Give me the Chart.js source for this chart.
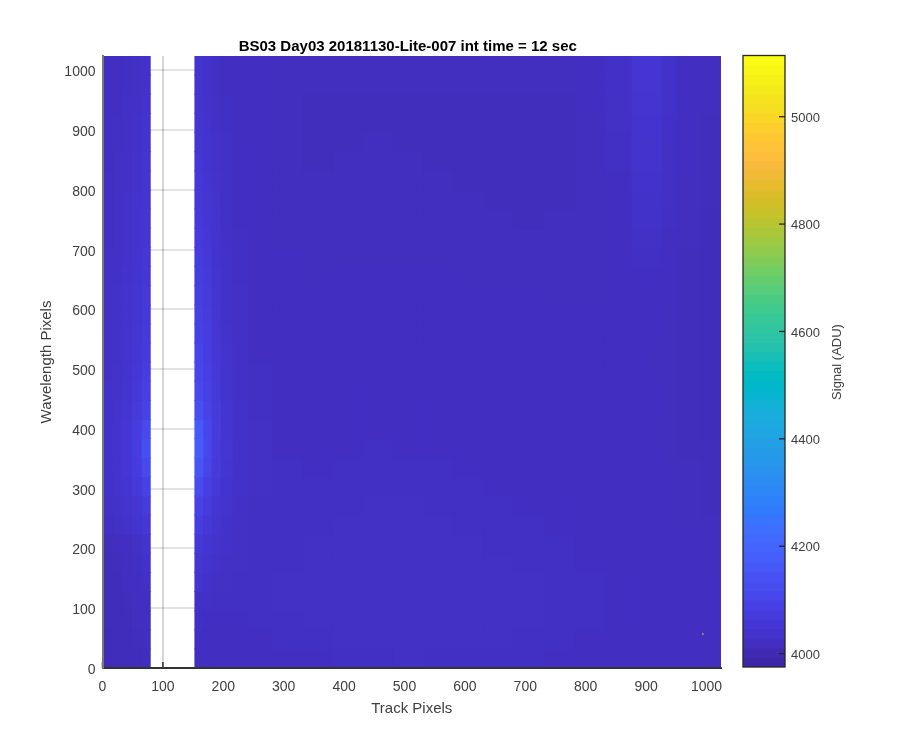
<!DOCTYPE html>
<html>
<head>
<meta charset="utf-8">
<title>BS03 Day03</title>
<script src="https://cdn.jsdelivr.net/npm/chart.js@4"></script>
<style>
    body { margin: 0; background: #fff; }
    canvas { position: absolute; left: 0; top: 0; }
</style>
</head>
<body>
<canvas id="imageChart" width="900" height="750"></canvas>
<canvas id="barChart" width="900" height="750"></canvas>
<script>
const titleText = "BS03 Day03 20181130-Lite-007 int time = 12 sec";
const xLabel = "Track Pixels";
const yLabel = "Wavelength Pixels";
const barLabel = "Signal (ADU)";

const trackStarts = [0, 16, 32, 48, 64, 153, 166, 180, 195, 215, 240, 280, 330, 380, 430, 480, 530, 580, 630, 680, 730, 780, 830, 875, 900, 925, 950, 990];
const trackEnds = [16, 32, 48, 64, 79, 166, 180, 195, 215, 240, 280, 330, 380, 430, 480, 530, 580, 630, 680, 730, 780, 830, 875, 900, 925, 950, 990, 1024];
const wavelengths = [16, 48, 80, 112, 144, 176, 208, 240, 272, 304, 336, 368, 400, 432, 464, 496, 528, 560, 592, 624, 656, 688, 720, 752, 784, 816, 848, 880, 912, 944, 976, 1008];

// one row per wavelength, bottom row first
const signal = [
    [4010,4012,4012,4014,4016,4018,4018,4020,4020,4020,4022,4024,4024,4026,4026,4028,4026,4026,4026,4026,4024,4024,4022,4022,4020,4020,4020,4018],
    [4010,4012,4014,4016,4018,4022,4022,4022,4022,4022,4024,4026,4026,4028,4028,4030,4028,4028,4028,4026,4026,4024,4024,4022,4022,4020,4020,4018],
    [4012,4012,4014,4018,4020,4026,4024,4024,4024,4024,4026,4026,4028,4030,4030,4030,4030,4028,4028,4028,4026,4026,4024,4024,4022,4022,4020,4020],
    [4012,4014,4016,4020,4024,4032,4028,4026,4026,4026,4026,4028,4028,4030,4030,4030,4030,4030,4028,4028,4026,4026,4024,4024,4022,4022,4020,4020],
    [4012,4014,4018,4022,4028,4040,4034,4030,4028,4026,4026,4028,4028,4030,4030,4030,4030,4028,4028,4028,4026,4026,4024,4024,4022,4022,4020,4020],
    [4014,4016,4020,4026,4034,4050,4042,4034,4030,4028,4026,4026,4028,4028,4030,4030,4028,4028,4028,4026,4026,4024,4024,4022,4022,4022,4020,4018],
    [4016,4020,4024,4030,4042,4060,4048,4040,4034,4028,4026,4026,4028,4028,4028,4028,4028,4028,4026,4026,4026,4024,4024,4022,4022,4020,4020,4018],
    [4026,4030,4036,4042,4054,4074,4058,4046,4036,4030,4026,4026,4026,4028,4028,4028,4028,4026,4026,4026,4024,4024,4022,4022,4022,4020,4018,4018],
    [4030,4034,4042,4052,4070,4094,4070,4052,4040,4032,4026,4026,4026,4026,4028,4028,4026,4026,4026,4024,4024,4024,4022,4022,4020,4020,4018,4016],
    [4034,4040,4048,4062,4090,4120,4084,4060,4044,4034,4028,4026,4026,4026,4026,4026,4026,4026,4024,4024,4024,4022,4022,4020,4020,4020,4018,4016],
    [4036,4042,4054,4072,4112,4150,4098,4066,4048,4036,4028,4026,4024,4026,4026,4026,4026,4024,4024,4024,4022,4022,4020,4020,4020,4018,4018,4016],
    [4036,4044,4056,4078,4135,4172,4108,4070,4050,4036,4028,4024,4024,4024,4026,4024,4024,4024,4022,4022,4022,4020,4020,4020,4020,4018,4016,4016],
    [4036,4042,4054,4074,4112,4165,4106,4070,4048,4036,4028,4024,4024,4024,4024,4024,4024,4024,4022,4022,4022,4020,4020,4020,4018,4018,4016,4014],
    [4034,4040,4050,4066,4092,4135,4096,4066,4046,4034,4026,4024,4024,4024,4024,4024,4024,4022,4022,4022,4020,4020,4020,4020,4020,4018,4016,4014],
    [4034,4038,4046,4060,4082,4116,4088,4062,4044,4032,4026,4024,4022,4024,4024,4024,4022,4022,4022,4022,4020,4020,4020,4020,4020,4018,4016,4014],
    [4032,4038,4044,4056,4074,4104,4084,4058,4042,4032,4026,4022,4022,4022,4022,4022,4022,4022,4020,4020,4020,4020,4020,4020,4018,4018,4016,4014],
    [4032,4036,4042,4052,4068,4098,4078,4056,4040,4030,4024,4022,4022,4022,4022,4022,4022,4020,4020,4020,4020,4020,4020,4020,4018,4018,4016,4014],
    [4032,4036,4040,4050,4064,4090,4074,4052,4038,4030,4024,4022,4020,4022,4022,4022,4020,4020,4020,4020,4020,4020,4020,4020,4020,4018,4016,4014],
    [4030,4034,4040,4048,4060,4086,4070,4050,4036,4028,4024,4020,4020,4020,4020,4020,4020,4020,4020,4020,4020,4020,4020,4022,4020,4018,4016,4014],
    [4030,4034,4040,4046,4058,4080,4066,4048,4036,4028,4022,4020,4020,4020,4020,4020,4020,4020,4020,4020,4018,4018,4020,4022,4022,4020,4016,4014],
    [4028,4032,4038,4044,4056,4076,4062,4046,4034,4026,4022,4020,4018,4020,4020,4020,4020,4018,4018,4018,4018,4018,4020,4024,4024,4020,4016,4014],
    [4028,4032,4036,4044,4054,4072,4058,4044,4034,4026,4022,4020,4018,4018,4018,4018,4018,4018,4018,4018,4018,4018,4020,4026,4026,4022,4016,4014],
    [4026,4030,4036,4042,4052,4068,4056,4042,4032,4026,4022,4018,4018,4018,4018,4018,4018,4018,4018,4018,4018,4018,4022,4030,4030,4024,4018,4014],
    [4026,4030,4034,4042,4050,4064,4052,4040,4030,4024,4020,4018,4018,4018,4018,4018,4018,4018,4018,4016,4018,4018,4022,4034,4034,4026,4018,4014],
    [4026,4028,4034,4040,4048,4060,4050,4040,4030,4024,4020,4018,4018,4018,4018,4018,4018,4018,4016,4016,4016,4018,4024,4036,4036,4028,4018,4016],
    [4026,4028,4032,4038,4046,4058,4046,4038,4028,4024,4020,4018,4018,4018,4018,4018,4018,4016,4016,4016,4016,4018,4024,4038,4038,4028,4018,4016],
    [4024,4028,4032,4038,4046,4054,4044,4036,4028,4024,4020,4018,4016,4018,4018,4018,4016,4016,4016,4016,4016,4018,4026,4040,4040,4030,4020,4016],
    [4024,4026,4030,4036,4044,4050,4042,4034,4028,4024,4020,4018,4016,4016,4018,4016,4016,4016,4016,4016,4016,4018,4026,4042,4042,4030,4020,4016],
    [4022,4026,4030,4034,4042,4048,4040,4032,4026,4022,4020,4018,4016,4016,4016,4016,4016,4016,4016,4016,4016,4018,4028,4044,4044,4032,4020,4016],
    [4022,4024,4028,4032,4038,4046,4038,4030,4026,4022,4020,4018,4016,4016,4016,4016,4016,4016,4016,4016,4016,4020,4030,4048,4048,4034,4022,4018],
    [4020,4024,4026,4030,4036,4044,4036,4030,4024,4022,4020,4018,4018,4018,4018,4018,4018,4018,4018,4018,4018,4020,4032,4050,4050,4036,4022,4018],
    [4020,4022,4026,4030,4034,4042,4034,4028,4024,4022,4020,4018,4018,4018,4018,4018,4018,4018,4018,4018,4018,4020,4032,4052,4052,4036,4022,4018]
];

// the one hot pixel near the bottom right
const hotX = [994];
const hotY = [57];
const hotSignal = [4850];

const axisMax = 1024;
const signalMin = 3975;
const signalMax = 5114;
const barTicks = [4000, 4200, 4400, 4600, 4800, 5000];

// MATLAB parula, 64 levels
const parula = [
    [0.2422,0.1504,0.6603],[0.2504,0.1650,0.7076],[0.2578,0.1818,0.7511],[0.2647,0.1978,0.7952],
    [0.2706,0.2147,0.8364],[0.2751,0.2342,0.8710],[0.2783,0.2559,0.8991],[0.2803,0.2782,0.9221],
    [0.2813,0.3006,0.9414],[0.2810,0.3228,0.9579],[0.2795,0.3447,0.9717],[0.2760,0.3667,0.9829],
    [0.2699,0.3892,0.9906],[0.2602,0.4123,0.9952],[0.2440,0.4358,0.9988],[0.2206,0.4603,0.9973],
    [0.1963,0.4847,0.9892],[0.1834,0.5074,0.9798],[0.1786,0.5289,0.9682],[0.1764,0.5499,0.9520],
    [0.1687,0.5703,0.9359],[0.1540,0.5902,0.9218],[0.1460,0.6091,0.9079],[0.1380,0.6276,0.8973],
    [0.1248,0.6459,0.8883],[0.1113,0.6635,0.8763],[0.0952,0.6798,0.8598],[0.0689,0.6948,0.8394],
    [0.0297,0.7082,0.8163],[0.0036,0.7203,0.7917],[0.0067,0.7312,0.7660],[0.0433,0.7411,0.7394],
    [0.0964,0.7500,0.7120],[0.1408,0.7584,0.6842],[0.1717,0.7670,0.6554],[0.1938,0.7758,0.6251],
    [0.2161,0.7843,0.5923],[0.2470,0.7918,0.5567],[0.2906,0.7973,0.5188],[0.3406,0.8008,0.4789],
    [0.3909,0.8029,0.4354],[0.4456,0.8024,0.3909],[0.5044,0.7993,0.3480],[0.5616,0.7942,0.3045],
    [0.6174,0.7876,0.2612],[0.6720,0.7793,0.2227],[0.7242,0.7698,0.1910],[0.7738,0.7598,0.1646],
    [0.8203,0.7498,0.1535],[0.8634,0.7406,0.1596],[0.9035,0.7330,0.1774],[0.9393,0.7288,0.2100],
    [0.9728,0.7298,0.2394],[0.9956,0.7434,0.2371],[0.9970,0.7659,0.2199],[0.9952,0.7861,0.1990],
    [0.9892,0.8134,0.1760],[0.9786,0.8422,0.1537],[0.9659,0.8702,0.1320],[0.9596,0.8958,0.1150],
    [0.9610,0.9190,0.1010],[0.9650,0.9430,0.0900],[0.9700,0.9650,0.0840],[0.9769,0.9839,0.0805]
];

function signalColor(value) {
    const pos = Math.min(62.999, Math.max(0, (value - signalMin) / (signalMax - signalMin) * 64 - 0.5));
    const low = Math.floor(pos);
    const part = pos - low;
    const rgb = [0, 1, 2].map(i => Math.round(255 * (parula[low][i] * (1 - part) + parula[low + 1][i] * part)));
    return "rgb(" + rgb.join(",") + ")";
}

const tickFont = { family: "'Liberation Sans', Arial, sans-serif", size: 14 };
const labelFont = { family: tickFont.family, size: 15 };
const textColor = "#404040";

const imageDatasets = [{
    type: "scatter",
    data: hotX.map((x, i) => ({ x: x, y: hotY[i] })),
    pointStyle: "rect",
    pointRadius: 1,
    pointBorderWidth: 0,
    pointBackgroundColor: hotSignal.map(signalColor)
}];

trackStarts.forEach((start, c) => {
    imageDatasets.push({
        indexAxis: "y",
        data: wavelengths.map(w => ({ y: w, x: [start, trackEnds[c]] })),
        backgroundColor: signal.map(row => signalColor(row[c])),
        barPercentage: 1,
        categoryPercentage: 1,
        grouped: false,
        inflateAmount: 0.5
    });
});

// ticks point inwards and sit under the image, so only the white gap shows them
const insideTicks = {
    id: "insideTicks",
    beforeDatasetsDraw(chart) {
        const { ctx, chartArea, scales } = chart;
        ctx.save();
        ctx.strokeStyle = "#303030";
        ctx.lineWidth = 1.5;
        scales.x.ticks.forEach(t => {
            const px = scales.x.getPixelForValue(t.value);
            ctx.beginPath();
            ctx.moveTo(px, chartArea.bottom);
            ctx.lineTo(px, chartArea.bottom - 6);
            ctx.stroke();
        });
        ctx.restore();
    }
};

const shiftTitle = {
    id: "shiftTitle",
    afterLayout(chart) {
        chart.titleBlock.right -= 8;
    }
};

new Chart(document.getElementById("imageChart"), {
    type: "bar",
    data: { datasets: imageDatasets },
    plugins: [insideTicks, shiftTitle],
    options: {
        responsive: false,
        animation: false,
        indexAxis: "y",
        layout: { padding: { left: 38, right: 179, top: 0, bottom: 32 } },
        plugins: {
            legend: { display: false },
            tooltip: { enabled: false },
            title: {
                display: true,
                text: titleText,
                fullSize: false,
                color: "#000",
                font: { family: tickFont.family, size: 15, weight: "bold" },
                padding: { top: 38, bottom: 0 }
            }
        },
        scales: {
            x: {
                type: "linear",
                min: 0,
                max: axisMax,
                grid: { color: "rgba(0,0,0,0.16)", lineWidth: 2, drawTicks: false },
                border: { color: "#333", width: 2, z: 1 },
                ticks: { stepSize: 100, includeBounds: false, maxRotation: 0, autoSkip: false, color: textColor, font: tickFont, padding: 11, callback: v => String(v) },
                title: { display: true, text: xLabel, color: textColor, font: labelFont, padding: { top: 0, bottom: 0 } },
                afterFit(scale) { scale.height = 50; }
            },
            y: {
                type: "linear",
                offset: false,
                min: 0,
                max: axisMax,
                grid: { offset: false, color: "rgba(0,0,0,0.11)", lineWidth: 2, drawTicks: false },
                border: { color: "#777", width: 2, z: 1 },
                ticks: { stepSize: 100, includeBounds: false, autoSkip: false, color: textColor, font: tickFont, padding: 7, labelOffset: 2, callback: v => String(v) },
                title: { display: true, text: yLabel, color: textColor, font: labelFont, padding: { top: 0, bottom: 0 } },
                afterFit(scale) { scale.width = 64.5; }
            }
        }
    }
});

const levelWidth = (signalMax - signalMin) / parula.length;
const levelCentres = parula.map((c, i) => signalMin + (i + 0.5) * levelWidth);

const barFrame = {
    id: "barFrame",
    afterDatasetsDraw(chart) {
        const { ctx, chartArea, scales } = chart;
        ctx.save();
        ctx.strokeStyle = "#262626";
        ctx.lineWidth = 1.3;
        ctx.strokeRect(chartArea.left, chartArea.top, chartArea.width, chartArea.height);
        barTicks.forEach(v => {
            const py = scales.y.getPixelForValue(v);
            ctx.beginPath();
            ctx.moveTo(chartArea.right, py);
            ctx.lineTo(chartArea.right - 6, py);
            ctx.stroke();
        });
        // right hand axis titles cannot read upwards in Chart.js
        ctx.translate(837, 362);
        ctx.rotate(-Math.PI / 2);
        ctx.fillStyle = textColor;
        ctx.font = "13px " + tickFont.family;
        ctx.textAlign = "center";
        ctx.textBaseline = "middle";
        ctx.fillText(barLabel, 0, 0);
        ctx.restore();
    }
};

new Chart(document.getElementById("barChart"), {
    type: "bar",
    data: {
        datasets: [{
            indexAxis: "y",
            data: levelCentres.map(v => ({ y: v, x: [0, 1] })),
            backgroundColor: levelCentres.map(signalColor),
            barPercentage: 1,
            categoryPercentage: 1,
            inflateAmount: 0.5
        }]
    },
    plugins: [barFrame],
    options: {
        responsive: false,
        animation: false,
        indexAxis: "y",
        layout: { padding: { left: 743, right: 0, top: 55.5, bottom: 83 } },
        plugins: { legend: { display: false }, tooltip: { enabled: false } },
        scales: {
            x: { type: "linear", min: 0, max: 1, display: false },
            y: {
                type: "linear",
                position: "right",
                offset: false,
                min: signalMin,
                max: signalMax,
                grid: { display: false, drawTicks: false },
                border: { display: false },
                afterBuildTicks(scale) { scale.ticks = barTicks.map(v => ({ value: v })); },
                ticks: { autoSkip: false, color: textColor, font: { family: tickFont.family, size: 13 }, padding: 6, labelOffset: 1.5, callback: v => String(v) },
                afterFit(scale) { scale.width = 115; }
            }
        }
    }
});
</script>
</body>
</html>
